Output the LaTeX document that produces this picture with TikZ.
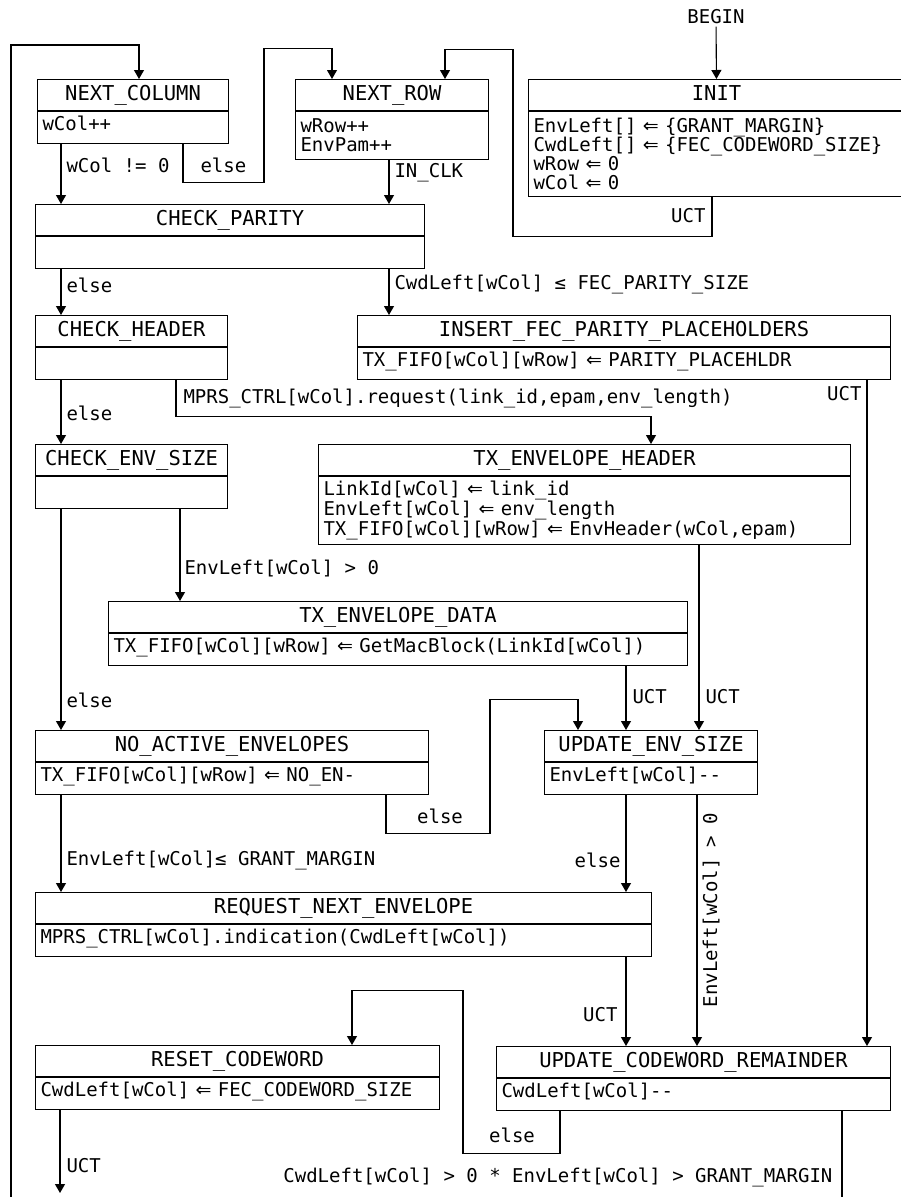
\documentclass[tikz,border=0pt]{standalone}
\usepackage{fontspec}
\newfontfamily\fsmmono{DejaVu Sans Mono}
\newfontfamily\fsmsym{DejaVu Sans}
\newcommand\fsmgets{{\fsmsym ⇐}}
\usetikzlibrary{arrows.meta}
\tikzset{
  statehead/.style={draw, anchor=north west, minimum height=31pt, inner sep=0pt, text height=15pt, text depth=4pt, font=\fsmmono\fontsize{20.5}{22}\selectfont},
  statebody/.style={draw, anchor=north west, align=left, inner xsep=5pt, inner ysep=4.5pt, font=\fsmmono\fontsize{19}{19}\selectfont},
  onebody/.style={statebody, text height=14pt, text depth=9pt},
  trlabel/.style={inner sep=2pt, font=\fsmmono\fontsize{19}{19}\selectfont},
  arrow/.style={-{Triangle[length=9pt,width=10pt]}},
  wire/.style={-}
}

\begin{document}
\begin{tikzpicture}[x=1pt, y=-1pt, line width=1.1pt]
  \useasboundingbox (0,0) rectangle (900,1197);

  % states: header node + body node
  \node[statehead, minimum width=191pt] (ncol) at (37,79) {NEXT\_COLUMN};
  \node[onebody, text width=181pt] (ncolb) at (ncol.south west) {wCol++};
  \node[statehead, minimum width=193pt] (nrow) at (295,79) {NEXT\_ROW};
  \node[statebody, text width=183pt, minimum height=48pt] (nrowb) at (nrow.south west) {wRow++\\EnvPam++};
  \node[statehead, minimum width=376pt] (init) at (528,79) {INIT};
  \node[statebody, text width=366pt, minimum height=85pt] (initb) at (init.south west)
    {EnvLeft[] \fsmgets{} \{GRANT\_MARGIN\}\\CwdLeft[] \fsmgets{} \{FEC\_CODEWORD\_SIZE\}\\wRow \fsmgets{} 0\\wCol \fsmgets{} 0};
  \node[statehead, minimum width=389pt] (chkpar) at (35,204) {CHECK\_PARITY};
  \node[onebody, text width=379pt] (chkparb) at (chkpar.south west) {};
  \node[statehead, minimum width=192pt] (chkhdr) at (35,315) {CHECK\_HEADER};
  \node[onebody, text width=182pt] (chkhdrb) at (chkhdr.south west) {};
  \node[statehead, minimum width=533pt] (insfec) at (357,315) {INSERT\_FEC\_PARITY\_PLACEHOLDERS};
  \node[onebody, text width=523pt] (insfecb) at (insfec.south west) {TX\_FIFO[wCol][wRow] \fsmgets{} PARITY\_PLACEHLDR};
  \node[statehead, minimum width=192pt] (chkenv) at (35,444) {CHECK\_ENV\_SIZE};
  \node[onebody, text width=182pt] (chkenvb) at (chkenv.south west) {};
  \node[statehead, minimum width=532pt] (txhdr) at (318,444) {TX\_ENVELOPE\_HEADER};
  \node[statebody, text width=522pt, minimum height=68pt] (txhdrb) at (txhdr.south west)
    {LinkId[wCol] \fsmgets{} link\_id\\EnvLeft[wCol] \fsmgets{} env\_length\\TX\_FIFO[wCol][wRow] \fsmgets{} EnvHeader(wCol,epam)};
  \node[statehead, minimum width=579pt] (txdata) at (108,601) {TX\_ENVELOPE\_DATA};
  \node[onebody, text width=569pt] (txdatab) at (txdata.south west) {TX\_FIFO[wCol][wRow] \fsmgets{} GetMacBlock(LinkId[wCol])};
  \node[statehead, minimum width=393pt] (noact) at (35,730) {NO\_ACTIVE\_ENVELOPES};
  \node[onebody, text width=383pt] (noactb) at (noact.south west) {TX\_FIFO[wCol][wRow] \fsmgets{} NO\_EN-};
  \node[statehead, minimum width=213pt] (updenv) at (544,730) {UPDATE\_ENV\_SIZE};
  \node[onebody, text width=203pt] (updenvb) at (updenv.south west) {EnvLeft[wCol]{-}{-}};
  \node[statehead, minimum width=616pt] (reqnext) at (35,892) {REQUEST\_NEXT\_ENVELOPE};
  \node[onebody, text width=606pt] (reqnextb) at (reqnext.south west) {MPRS\_CTRL[wCol].indication(CwdLeft[wCol])};
  \node[statehead, minimum width=404pt] (rstcw) at (35,1045) {RESET\_CODEWORD};
  \node[onebody, text width=394pt] (rstcwb) at (rstcw.south west) {CwdLeft[wCol] \fsmgets{} FEC\_CODEWORD\_SIZE};
  \node[statehead, minimum width=394pt] (updcw) at (496,1046) {UPDATE\_CODEWORD\_REMAINDER};
  \node[onebody, text width=384pt] (updcwb) at (updcw.south west) {CwdLeft[wCol]{-}{-}};

  \node[trlabel] (begin) at (716,17) {BEGIN};
  \coordinate (fbl) at (11,1197);
  \coordinate (rstout) at (60,1193);
  \coordinate (updout) at (842,1197);

  % transitions
  \draw[arrow] (begin) -- (init);
  \draw[arrow] (fbl) |- ([xshift=102pt, yshift=34pt]ncol.north west) -- ([xshift=102pt]ncol.north west);
  \draw[arrow] ([xshift=24pt]ncolb.south west) -- ([xshift=26pt]chkpar.north west);
  \draw[arrow] ([xshift=146pt]ncolb.south west) -- ++(0,38) -- ++(81,0) -- ++(0,-134) -| ([xshift=37pt]nrow.north west);
  \draw[arrow] ([xshift=94pt]nrowb.south west) -- ([xshift=354pt]chkpar.north west);
  \draw[arrow] ([xshift=184pt]initb.south west) -- ++(0,39) -- ++(-199,0) -- ++(0,-187) -| ([xshift=150pt]nrow.north west);
  \draw[arrow] ([xshift=26pt]chkparb.south west) -- ([xshift=26pt]chkhdr.north west);
  \draw[arrow] ([xshift=354pt]chkparb.south west) -- ([xshift=32pt]insfec.north west);
  \draw[arrow] ([xshift=26pt]chkhdrb.south west) -- ([xshift=26pt]chkenv.north west);
  \draw[arrow] ([xshift=141pt]chkhdrb.south west) -- ++(0,36) -| ([xshift=333pt]txhdr.north west);
  \draw[arrow] ([xshift=510pt]insfecb.south west) -- ([xshift=371pt]updcw.north west);
  \draw[arrow] ([xshift=145pt]chkenvb.south west) -- ([xshift=72pt]txdata.north west);
  \draw[arrow] ([xshift=26pt]chkenvb.south west) -- ([xshift=26pt]noact.north west);
  \draw[arrow] ([xshift=518pt]txdatab.south west) -- ([xshift=82pt]updenv.north west);
  \draw[arrow] ([xshift=381pt]txhdrb.south west) -- ([xshift=155pt]updenv.north west);
  \draw[arrow] ([xshift=351pt]noactb.south west) -- ++(0,38) -- ++(104,0) -- ++(0,-134) -| ([xshift=34pt]updenv.north west);
  \draw[arrow] ([xshift=26pt]noactb.south west) -- ([xshift=26pt]reqnext.north west);
  \draw[arrow] ([xshift=82pt]updenvb.south west) -- ([xshift=591pt]reqnext.north west);
  \draw[arrow] ([xshift=153pt]updenvb.south west) -- ([xshift=201pt]updcw.north west);
  \draw[arrow] ([xshift=591pt]reqnextb.south west) -- ([xshift=130pt]updcw.north west);
  \draw[arrow] ([xshift=64pt]updcwb.south west) -- ++(0,42) -- ++(-97,0) -- ++(0,-163) -| ([xshift=317pt]rstcw.north west);
  \draw[arrow] ([xshift=25pt]rstcwb.south west) -- (rstout);
  \draw[wire] ([xshift=346pt]updcwb.south west) -- (updout);

  % guards
  \node[trlabel, anchor=west] (lcolnz) at (64,165) {wCol != 0};
  \node[trlabel, anchor=west] (lcolelse) at (198,165) {else};
  \node[trlabel, anchor=west] (lclk) at (392,173) {IN\_CLK};
  \node[trlabel, anchor=east] (linit) at (708,216) {UCT};
  \node[trlabel, anchor=west] (lparelse) at (64,285) {else};
  \node[trlabel, anchor=west] (lparity) at (392,284) {CwdLeft[wCol] ≤ FEC\_PARITY\_SIZE};
  \node[trlabel, anchor=east] (lfec) at (864,394) {UCT};
  \node[trlabel, anchor=west] (lhdrelse) at (64,413) {else};
  \node[trlabel, anchor=west] (lreq) at (181,398) {MPRS\_CTRL[wCol].request(link\_id,epam,env\_length)};
  \node[trlabel, anchor=west] (lenvpos) at (182,568) {EnvLeft[wCol] > 0};
  \node[trlabel, anchor=west] (lenvelse) at (64,700) {else};
  \node[trlabel, anchor=west] (ldata) at (630,697) {UCT};
  \node[trlabel, anchor=west] (lhdr) at (703,697) {UCT};
  \node[trlabel] (lnoelse) at (440,816) {else};
  \node[trlabel, anchor=west] (lgrant) at (64,860) {EnvLeft[wCol]≤ GRANT\_MARGIN};
  \node[trlabel, anchor=east] (lupdelse) at (623,860) {else};
  \node[trlabel, rotate=90] (lupdpos) at (711,910) {EnvLeft[wCol] > 0};
  \node[trlabel, anchor=east] (lreqn) at (620,1015) {UCT};
  \node[trlabel] (lcwelse) at (512,1135) {else};
  \node[trlabel, anchor=west] (lrst) at (64,1166) {UCT};
  \node[trlabel, anchor=east] (lcwpos) at (835,1177) {CwdLeft[wCol] > 0 * EnvLeft[wCol] > GRANT\_MARGIN};
\end{tikzpicture}
\end{document}
